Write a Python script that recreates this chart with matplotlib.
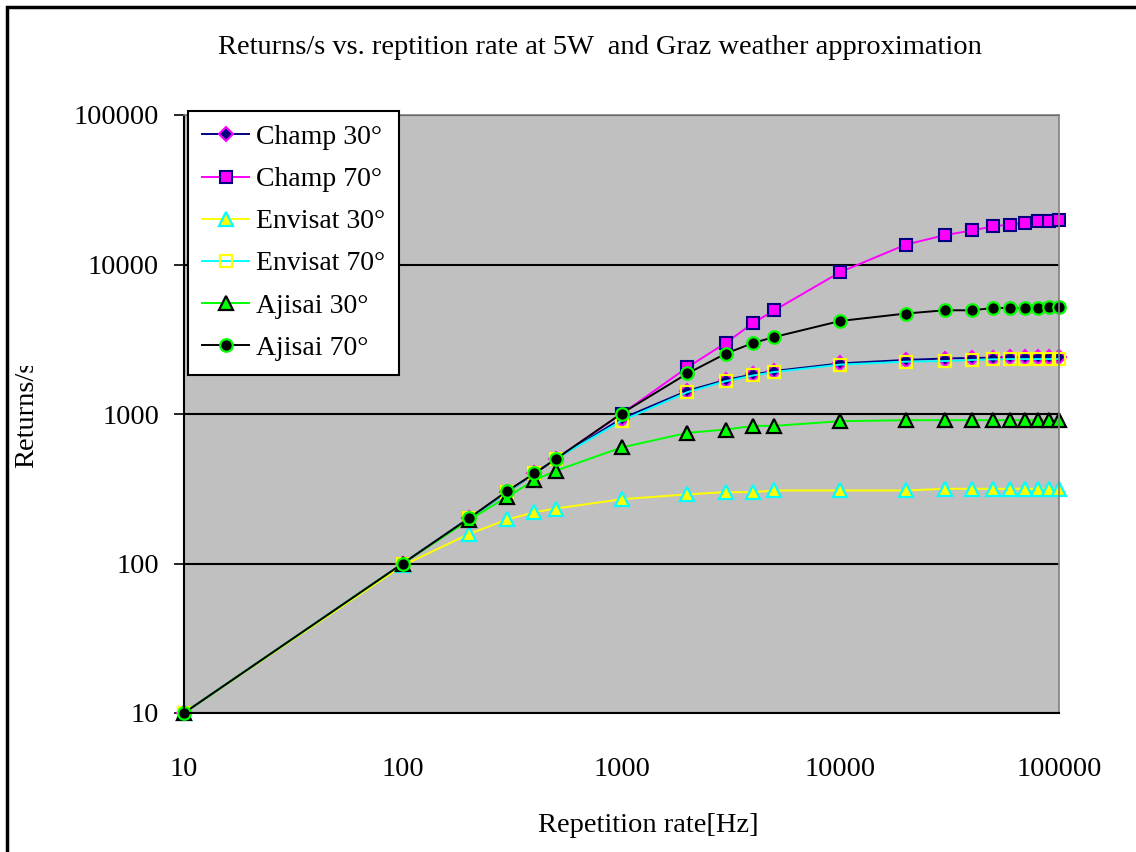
import matplotlib.pyplot as plt
from matplotlib.patches import Rectangle
from matplotlib.transforms import Bbox

plt.rcParams['font.family'] = ['Liberation Serif', 'DejaVu Serif']

# repetition rate [Hz]
rate = [10, 100, 200, 300, 400, 500, 1000, 2000, 3000, 4000, 5000, 10000,
        20000, 30000, 40000, 50000, 60000, 70000, 80000, 90000, 100000]

champ_30 = [10, 100, 200, 300, 400, 500, 930, 1430, 1690, 1840, 1940, 2180,
            2300, 2350, 2370, 2380, 2400, 2400, 2400, 2400, 2400]
champ_70 = [10, 100, 200, 300, 400, 500, 1000, 2050, 2990, 4060, 4940, 8900,
            13600, 15700, 16900, 18000, 18500, 18900, 19400, 19400, 19900]
envisat_30 = [10, 97, 157, 197, 220, 233, 269, 290, 300, 300, 308, 308,
              308, 316, 316, 316, 316, 316, 316, 316, 316]
envisat_70 = [10, 100, 200, 300, 400, 500, 900, 1400, 1660, 1810, 1910, 2140,
              2240, 2260, 2300, 2320, 2330, 2330, 2330, 2330, 2330]
ajisai_30 = [10, 100, 195, 279, 361, 417, 597, 748, 787, 833, 833, 895,
             909, 909, 909, 909, 909, 909, 909, 909, 909]
ajisai_70 = [10, 100, 200, 305, 400, 499, 1007, 1866, 2537, 2987, 3275, 4190,
             4700, 4940, 4940, 5120, 5120, 5120, 5120, 5230, 5230]

fig = plt.figure(figsize=(11.36, 8.52), dpi=100)
ax = fig.add_axes([184 / 1136, 1 - 713 / 852, 875 / 1136, 598 / 852])
ax.set_facecolor('#C0C0C0')

ms = 9
lw = 1.4
ax.plot(rate, champ_30, color='#000080', lw=lw, marker='D', ms=ms - 2,
        mfc='#000080', mec='#FF00FF', mew=1.5, label='Champ 30°', clip_on=False)
ax.plot(rate, champ_70, color='#FF00FF', lw=lw, marker='s', ms=ms,
        mfc='#FF00FF', mec='#000080', mew=1.5, label='Champ 70°', clip_on=False)
ax.plot(rate, envisat_30, color='#FFFF00', lw=lw, marker='^', ms=ms + 1,
        mfc='#FFFF00', mec='#00FFFF', mew=1.6, label='Envisat 30°', clip_on=False)
ax.plot(rate, envisat_70, color='#00FFFF', lw=lw, marker='s', ms=ms,
        mfc='none', mec='#FFFF00', mew=1.6, label='Envisat 70°', clip_on=False)
ax.plot(rate, ajisai_30, color='#00FF00', lw=lw, marker='^', ms=ms + 1,
        mfc='#00FF00', mec='black', mew=1.6, label='Ajisai 30°', clip_on=False)
ax.plot(rate, ajisai_70, color='black', lw=lw, marker='o', ms=ms,
        mfc='black', mec='#00FF00', mew=1.6, label='Ajisai 70°', clip_on=False)

ax.set_xscale('log')
ax.set_yscale('log')
ax.set_xlim(10, 100000)
ax.set_ylim(10, 100000)
ax.set_xticks([10, 100, 1000, 10000, 100000])
ax.set_xticklabels(['10', '100', '1000', '10000', '100000'])
ax.set_yticks([10, 100, 1000, 10000, 100000])
ax.set_yticklabels(['10', '100', '1000', '10000', '100000'])
ax.minorticks_off()
ax.tick_params(axis='x', length=0, pad=32, labelsize=20.5)
ax.tick_params(axis='y', length=7, width=1.2, pad=11, labelsize=20.5)
ax.grid(axis='y', color='black', lw=1.5)
ax.set_axisbelow(True)
for s in ['top', 'right']:
    ax.spines[s].set_color('#808080')
    ax.spines[s].set_linewidth(1.2)
for s in ['left', 'bottom']:
    ax.spines[s].set_color('black')
    ax.spines[s].set_linewidth(1.5)

leg = ax.legend(loc='upper left', bbox_to_anchor=(0.0046, 1.007),
                fontsize=20, frameon=True, fancybox=False, borderpad=0.5,
                labelspacing=0.6, handlelength=1.7, handletextpad=0.25,
                borderaxespad=0)
leg.get_frame().set_edgecolor('black')
leg.get_frame().set_linewidth(1.5)
leg.get_frame().set_facecolor('white')
leg.get_frame().set_alpha(1)
leg.set_zorder(5)

fig.text(0.528, 1 - 47 / 852,
         'Returns/s vs. reptition rate at 5W  and Graz weather approximation',
         ha='center', va='center', fontsize=20.5)
fig.text(648 / 1136, 1 - 826 / 852, 'Repetition rate[Hz]',
         ha='center', va='center', fontsize=20.5)
yl = fig.text(27 / 1136, 1 - 468 / 852, 'Returns/s', rotation=90,
              ha='center', va='bottom', fontsize=20.5)
yl.set_clip_box(Bbox.from_extents(0, 0, 184, 852 - 366))
yl.set_clip_on(True)

fig.patches.append(Rectangle((7 / 1136, -0.1), 1.2, 1 - 7 / 852 + 0.1,
                             transform=fig.transFigure, fill=False,
                             edgecolor='black', lw=2.5))

fig.savefig('out.png', dpi=100)
